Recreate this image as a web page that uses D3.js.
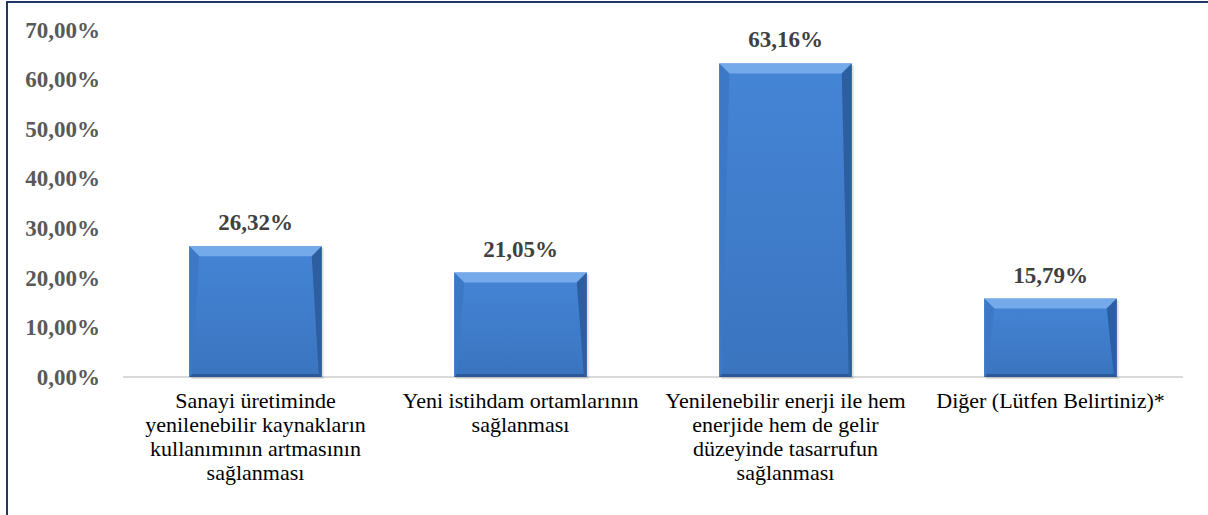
<!DOCTYPE html>
<html>
<head>
<meta charset="utf-8">
<script src="https://cdn.jsdelivr.net/npm/d3@7"></script>
<style>
  body { margin: 0; background: #fff; }
  svg { display: block; }
  text { font-family: "Liberation Serif", "Times New Roman", Tinos, "DejaVu Serif", serif; }
</style>
</head>
<body>
<svg id="chart" width="1208" height="515"></svg>
<script>
"use strict";

// chart data
var categories = ["c1", "c2", "c3", "c4"];
var categoryLines = [
    ["Sanayi üretiminde", "yenilenebilir kaynakların", "kullanımının artmasının", "sağlanması"],
    ["Yeni istihdam ortamlarının", "sağlanması"],
    ["Yenilenebilir enerji ile hem", "enerjide hem de gelir", "düzeyinde tasarrufun", "sağlanması"],
    ["Diğer (Lütfen Belirtiniz)*"]
];
var values = [26.32, 21.05, 63.16, 15.79];
var yTicks = [0, 10, 20, 30, 40, 50, 60, 70];

var svg = d3.select("#chart");

// frame (only top and left edges show in the crop)
svg.append("line").attr("x1", 6).attr("x2", 1208).attr("y1", 2).attr("y2", 2)
    .attr("stroke", "#1f3868").attr("stroke-width", 2);
svg.append("line").attr("x1", 7).attr("x2", 7).attr("y1", 1).attr("y2", 515)
    .attr("stroke", "#1f3868").attr("stroke-width", 2);

var x = d3.scaleBand().domain(categories).range([123, 1183]).paddingInner(0.5).paddingOuter(0.25);
var y = d3.scaleLinear().domain([0, 70]).range([377, 29.5]);

var fmt = function(v) { return d3.format(".2f")(v).replace(".", ",") + "%"; };

// y tick labels
svg.append("g").selectAll("text")
    .data(yTicks)
    .enter().append("text")
    .attr("x", 100)
    .attr("y", function(d) { return y(d) + 8; })
    .attr("text-anchor", "end")
    .style("font-weight", "bold")
    .style("font-size", "23px")
    .style("fill", "#595959")
    .text(function(d) { return fmt(d); });

// axis baseline
svg.append("line").attr("x1", 123).attr("x2", 1183).attr("y1", y(0)).attr("y2", y(0))
    .attr("stroke", "#d9d9d9").attr("stroke-width", 2);

// bar gradient
var defs = svg.append("defs");
var grad = defs.append("linearGradient").attr("id", "barGrad")
    .attr("x1", 0).attr("x2", 0).attr("y1", 0).attr("y2", 1);
grad.append("stop").attr("offset", "0%").attr("stop-color", "#4585d6");
grad.append("stop").attr("offset", "100%").attr("stop-color", "#3a74bf");

var bars = svg.append("g").selectAll("g")
    .data(values)
    .enter().append("g");

var bev = 10;

bars.append("rect")
    .attr("x", function(d, i) { return x(categories[i]) + 2; })
    .attr("y", function(d) { return y(d) + 2; })
    .attr("width", x.bandwidth())
    .attr("height", function(d) { return y(0) - y(d); })
    .attr("fill", "#000").attr("opacity", 0.12);

bars.append("rect")
    .attr("x", function(d, i) { return x(categories[i]); })
    .attr("y", function(d) { return y(d); })
    .attr("width", x.bandwidth())
    .attr("height", function(d) { return y(0) - y(d); })
    .attr("fill", "url(#barGrad)");

// bevel faces
function face(d, i, side) {
    var x0 = x(categories[i]), x1 = x0 + x.bandwidth();
    var y0 = y(d), y1 = y(0);
    var p;
    if (side === "top") p = [[x0, y0], [x1, y0], [x1 - bev, y0 + bev], [x0 + bev, y0 + bev]];
    if (side === "left") p = [[x0, y0], [x0 + bev, y0 + bev], [x0 + 3, y1 - 3], [x0, y1]];
    if (side === "right") p = [[x1, y0], [x1 - bev, y0 + bev], [x1 - 3, y1 - 3], [x1, y1]];
    if (side === "bottom") p = [[x0, y1], [x0 + 3, y1 - 3], [x1 - 3, y1 - 3], [x1, y1]];
    return p.map(function(q) { return q.join(","); }).join(" ");
}
var faces = [
    { side: "top", color: "#74a9ea" },
    { side: "left", color: "#3d78c6" },
    { side: "right", color: "#2d5e9f" },
    { side: "bottom", color: "#2b5896" }
];
faces.forEach(function(f) {
    bars.append("polygon")
        .attr("points", function(d, i) { return face(d, i, f.side); })
        .attr("fill", f.color);
});

// value labels
bars.append("text")
    .attr("x", function(d, i) { return x(categories[i]) + x.bandwidth() / 2; })
    .attr("y", function(d) { return y(d) - 16; })
    .attr("text-anchor", "middle")
    .style("font-weight", "bold")
    .style("font-size", "23px")
    .style("fill", "#404040")
    .text(function(d) { return fmt(d); });

// category labels
var cat = svg.append("g").selectAll("text")
    .data(categoryLines)
    .enter().append("text")
    .attr("text-anchor", "middle")
    .style("font-size", "22px")
    .style("fill", "#000");
cat.selectAll("tspan")
    .data(function(d, i) { return d.map(function(t) { return { t: t, i: i }; }); })
    .enter().append("tspan")
    .attr("x", function(d) { return x(categories[d.i]) + x.bandwidth() / 2; })
    .attr("y", function(d, j) { return 408 + j * 24; })
    .text(function(d) { return d.t; });
</script>
</body>
</html>
